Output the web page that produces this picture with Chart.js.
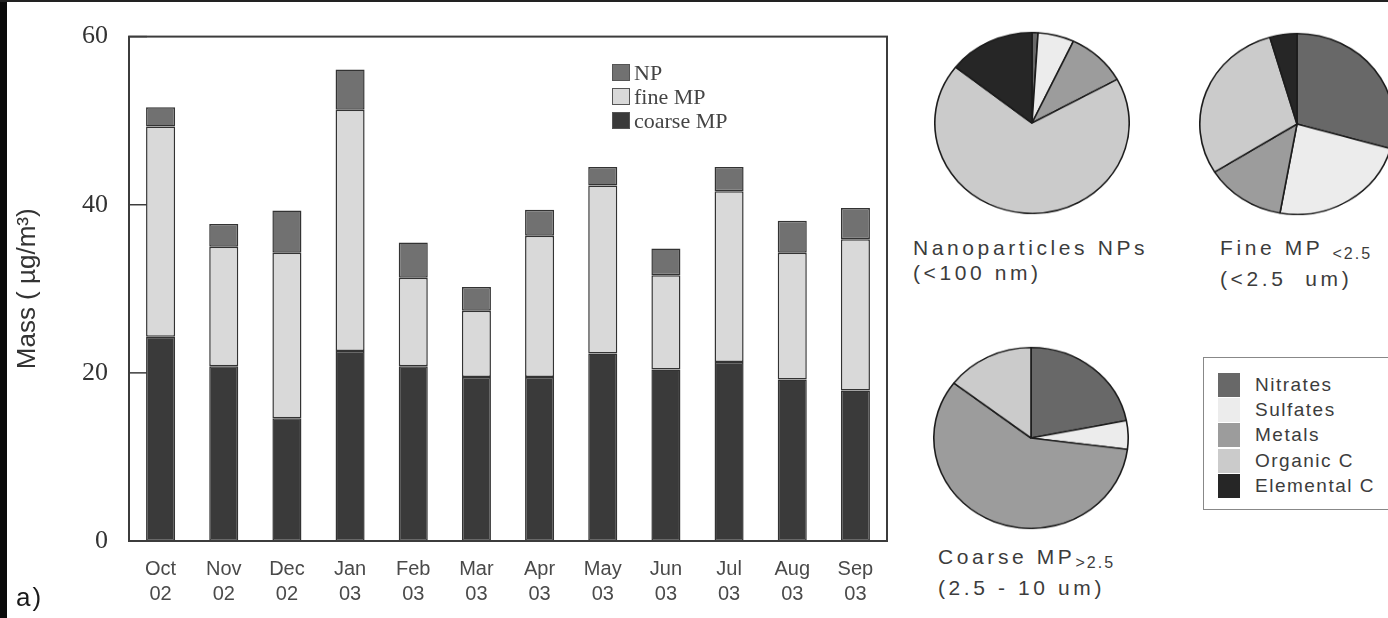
<!DOCTYPE html>
<html>
<head>
<meta charset="utf-8">
<script src="https://cdn.jsdelivr.net/npm/chart.js@4/dist/chart.umd.min.js"></script>
<style>
  html, body { margin: 0; padding: 0; background: #fff; }
  #page { position: relative; width: 1388px; height: 618px; overflow: hidden; background: #fff; }
  .abs { position: absolute; }
  #edgeLeft { left: 0; top: 0; width: 7px; height: 618px; background: #0a0a0a; }
  #edgeTop { left: 0; top: 0; width: 1388px; height: 2px; background: #222; }
  #tag { left: 16px; top: 582px; font: 26px "Liberation Sans", Arial, sans-serif; color: #1a1a1a; letter-spacing: 2px; }
  .pieWrap { transform: scaleY(0.93); transform-origin: center center; }
  .pieLabel { font: 21px "Liberation Sans", Arial, sans-serif; color: #3c3c3c; line-height: 25px; white-space: nowrap; letter-spacing: 3.6px; }
  .pieLabel sub { font-size: 16px; letter-spacing: 2px; vertical-align: -4px; }
  #barLegend { left: 612px; top: 57px; font: 22px "Liberation Serif", "Times New Roman", serif; color: #444; }
  #barLegend .row { display: flex; align-items: center; height: 31px; margin-top: -7px; }
  #barLegend .row:first-child { margin-top: 0; }
  #barLegend .sw { width: 16px; height: 15px; border: 1px solid #555; margin-right: 4px; }
  #pieLegend { left: 1203px; top: 357px; width: 190px; height: 153px; border: 1px solid #888; box-sizing: border-box;
               font: 19px "Liberation Sans", Arial, sans-serif; color: #3c3c3c; letter-spacing: 1.5px; }
  #pieLegend .row { position: absolute; left: 14px; display: flex; align-items: center; height: 25px; }
  #pieLegend .sw { width: 22px; height: 24px; margin-right: 15px; }
</style>
</head>
<body>
<div id="page">
  <canvas id="bars" class="abs" width="900" height="618" style="left:0;top:0"></canvas>
  <div id="barLegend" class="abs"></div>

  <div class="abs pieWrap" style="left:934px;top:25px"><canvas id="pieNP" width="196" height="196"></canvas></div>
  <div class="abs pieWrap" style="left:1199px;top:26px"><canvas id="pieFine" width="196" height="196"></canvas></div>
  <div class="abs pieWrap" style="left:933px;top:340px"><canvas id="pieCoarse" width="196" height="196"></canvas></div>

  <div class="abs pieLabel" style="left:913px;top:235px">Nanoparticles NPs<br>(&lt;100 nm)</div>
  <div class="abs pieLabel" style="left:1220px;top:235px">Fine MP <sub>&lt;2.5</sub><br>(&lt;2.5&nbsp; um)</div>
  <div class="abs pieLabel" style="left:938px;top:544px">Coarse MP<sub>&gt;2.5</sub><br>(2.5 - 10 um)</div>

  <div id="pieLegend" class="abs"></div>

  <div id="tag" class="abs">a)</div>
  <div id="edgeLeft" class="abs"></div>
  <div id="edgeTop" class="abs"></div>
</div>

<script>
// monthly mass, stacked: coarse MP at the bottom, fine MP, NP on top
const months = [['Oct', '02'], ['Nov', '02'], ['Dec', '02'], ['Jan', '03'], ['Feb', '03'], ['Mar', '03'],
                ['Apr', '03'], ['May', '03'], ['Jun', '03'], ['Jul', '03'], ['Aug', '03'], ['Sep', '03']];
const coarseMP = [24.3, 20.8, 14.6, 22.6, 20.8, 19.5, 19.5, 22.3, 20.4, 21.3, 19.2, 17.9];
const fineMP   = [25.0, 14.2, 19.7, 28.7, 10.5, 7.9, 16.8, 20.0, 11.2, 20.3, 15.1, 18.0];
const np       = [2.3, 2.7, 5.0, 4.8, 4.2, 2.8, 3.1, 2.2, 3.2, 2.9, 3.8, 3.7];
const yTicks = [0, 20, 40, 60];

// composition of each size fraction (%)
const components = ['Nitrates', 'Sulfates', 'Metals', 'Organic C', 'Elemental C'];
const npShares     = [1.0, 6.0, 10.0, 68.6, 14.4];
const fineShares   = [29.4, 23.4, 13.3, 29.4, 4.5];
const coarseShares = [21.9, 5.1, 58.4, 14.6, 0];

const componentColors = ['#686868', '#ececec', '#9c9c9c', '#cbcbcb', '#262626'];
const barColors = { coarse: '#3a3a3a', fine: '#d9d9d9', np: '#717171' };

// box round the plot + short ticks pointing inward
const frame = {
  id: 'frame',
  afterDatasetsDraw(chart) {
    const { ctx, chartArea: a, scales: { y } } = chart;
    ctx.save();
    ctx.strokeStyle = '#3c3c3c';
    ctx.lineWidth = 2;
    ctx.strokeRect(a.left, a.top, a.right - a.left, a.bottom - a.top);
    ctx.lineWidth = 1.5;
    yTicks.forEach(v => {
      const py = y.getPixelForValue(v);
      ctx.beginPath();
      ctx.moveTo(a.left, py);
      ctx.lineTo(a.left + 18, py);
      ctx.stroke();
    });
    ctx.restore();
  }
};

const barDatasets = [
  { label: 'coarse MP', data: coarseMP, backgroundColor: barColors.coarse },
  { label: 'fine MP', data: fineMP, backgroundColor: barColors.fine },
  { label: 'NP', data: np, backgroundColor: barColors.np },
];

new Chart(document.getElementById('bars'), {
  type: 'bar',
  data: { labels: months, datasets: barDatasets },
  options: {
    responsive: false,
    animation: false,
    devicePixelRatio: 1,
    layout: { padding: { top: 32, right: 13, left: 0, bottom: 0 } },
    datasets: {
      bar: {
        categoryPercentage: 1,
        barPercentage: 0.46,
        borderColor: '#333',
        borderWidth: 1.5,
        borderSkipped: false,
      }
    },
    plugins: { legend: { display: false }, tooltip: { enabled: false } },
    scales: {
      x: {
        stacked: true,
        grid: { display: false, drawTicks: false },
        border: { display: false },
        ticks: {
          padding: 16,
          color: '#4a4a4a',
          font: { family: '"Liberation Sans", Arial, sans-serif', size: 20, lineHeight: 1.25 },
          maxRotation: 0,
          autoSkip: false,
        },
        afterFit(scale) { scale.height = 77; }
      },
      y: {
        stacked: true,
        min: 0,
        max: 60,
        afterBuildTicks(scale) { scale.ticks = yTicks.map(v => ({ value: v })); },
        grid: { display: false, drawTicks: false },
        border: { display: false },
        ticks: {
          padding: 21,
          color: '#333',
          font: { family: '"Liberation Serif", "Times New Roman", serif', size: 26 },
        },
        title: {
          display: true,
          text: 'Mass ( µg/m³)',
          color: '#333',
          font: { family: '"Liberation Sans", Arial, sans-serif', size: 26 },
          padding: { top: 12, bottom: 0 },
        },
        afterFit(scale) { scale.width = 129; }
      }
    }
  },
  plugins: [frame]
});

// legend inside the plot, top entry = top of the stack
const barLegend = document.getElementById('barLegend');
barDatasets.slice().reverse().forEach(ds => {
  const row = document.createElement('div');
  row.className = 'row';
  row.innerHTML = `<span class="sw" style="background:${ds.backgroundColor}"></span><span>${ds.label}</span>`;
  barLegend.appendChild(row);
});

function drawPie(id, shares) {
  new Chart(document.getElementById(id), {
    type: 'pie',
    data: {
      labels: components,
      datasets: [{
        data: shares,
        backgroundColor: componentColors,
        borderColor: '#1c1c1c',
        borderWidth: 1.6,
        hoverOffset: 0,
        offset: 0,
      }]
    },
    options: {
      responsive: false,
      animation: false,
      devicePixelRatio: 1,
      layout: { padding: 0 },
      plugins: { legend: { display: false }, tooltip: { enabled: false } }
    }
  });
}

drawPie('pieNP', npShares);
drawPie('pieFine', fineShares);
drawPie('pieCoarse', coarseShares);

const pieLegend = document.getElementById('pieLegend');
components.forEach((name, i) => {
  const row = document.createElement('div');
  row.className = 'row';
  row.style.top = (14 + i * 25.4) + 'px';
  row.innerHTML = `<span class="sw" style="background:${componentColors[i]}"></span><span>${name}</span>`;
  pieLegend.appendChild(row);
});
</script>
</body>
</html>
